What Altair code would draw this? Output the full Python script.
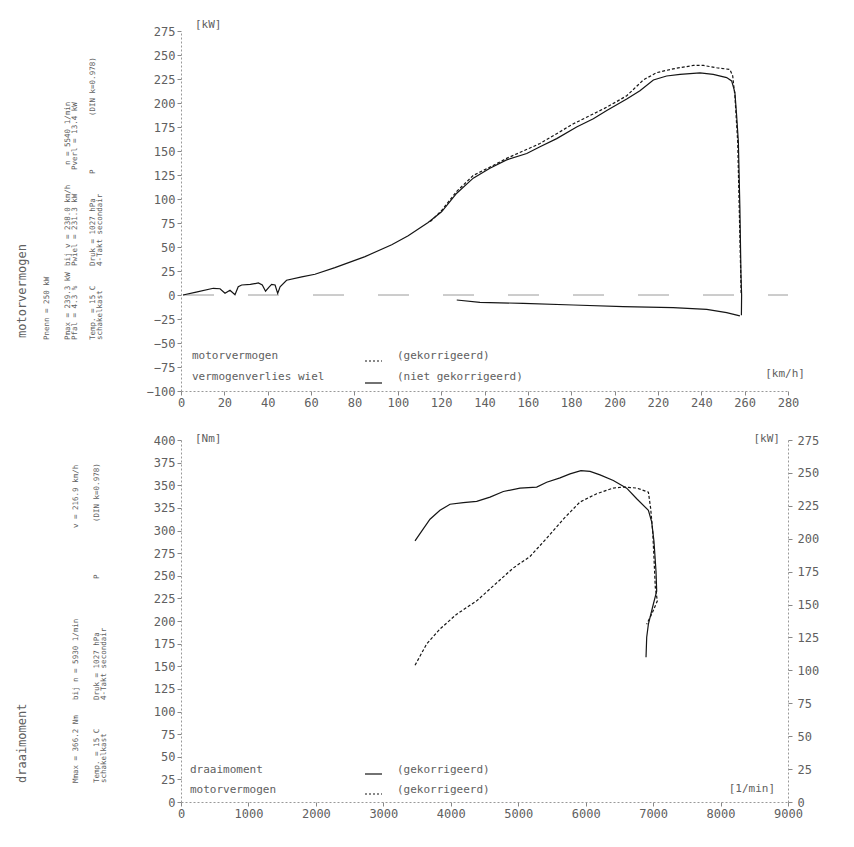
import altair as alt
import pandas as pd

# ---------------- top panel: motorvermogen (km/h -> kW) ----------------
speed_wiel = [0.9, 7, 14.9, 18, 20.3, 22.6, 24.9, 26.4, 28, 32, 35.7, 37.5, 39, 40.5,
              41.8, 43.4, 44.6, 45.7, 48.7, 55.7, 61.8, 71, 84.9, 97.2, 104.8, 114,
              120.2, 127.2, 134.8, 142.5, 150.2, 159.5, 165.6, 173.3, 182.5, 190.2,
              196.4, 205.6, 211.7, 217.9, 224, 230.2, 239.4, 245.5, 251.7, 254, 255.5,
              256.3, 257.1, 257.8, 258.3, 258.6, 258.5]
power_wiel = [0, 3, 7, 6.5, 1.8, 5, 0.3, 8.6, 10.4, 11, 12.5, 10.4, 4, 8,
              11, 10.4, 1.7, 8.5, 15.4, 18.8, 21.6, 28.5, 40, 52.4, 61.8, 75.5,
              86.7, 106, 121.7, 132, 140.7, 147.4, 154.4, 162.9, 175, 183.6,
              192.2, 204.1, 212.7, 224, 228.1, 229.8, 231.3, 229.8, 226.5, 223, 211,
              187, 159.6, 90.9, 22.3, 0, -21]
speed_corr = [115, 120.2, 127.2, 134.8, 144, 150.2, 165.6, 181, 196.4, 205.6, 213.3,
              219.4, 227, 236.3, 241, 247.1, 253.2, 254.5, 255.5, 256.8, 257.5, 258.2, 258.4]
power_corr = [76.5, 88, 108, 124.5, 134.9, 142.3, 157.8, 178.3, 195.6, 207.5, 224.1,
              231.6, 235.6, 239.1, 239.1, 236.7, 234.9, 228.1, 207.5, 159.6, 90.9, 21.7, 0]
speed_loss = [127.2, 137.9, 157.9, 181, 204, 227, 242.5, 251.7, 257.8]
power_loss = [-5.2, -7.6, -8.7, -10.4, -12.1, -13.2, -14.9, -18.3, -21.8]
zero_ref = [0]

speed_ticks = [0, 20, 40, 60, 80, 100, 120, 140, 160, 180, 200, 220, 240, 260, 280]
kw_ticks_top = [-100, -75, -50, -25, 0, 25, 50, 75, 100, 125, 150, 175, 200, 225, 250, 275]

# ---------------- bottom panel: draaimoment (1/min -> Nm, kW) ----------------
rpm_torque = [3470, 3569, 3692, 3840, 3989, 4186, 4384, 4582, 4779, 5027, 5274, 5422,
              5620, 5768, 5930, 6065, 6213, 6410, 6608, 6757, 6930, 6979, 7013, 7043,
              7053, 7003, 6930, 6905, 6895]
torque_nm = [288.5, 299.4, 312.5, 322.3, 329, 330.7, 332.2, 336.9, 343.1, 346.8, 347.9,
             353.3, 358.1, 362.5, 366.2, 365.3, 361.4, 355.2, 346.8, 335.1, 322.3, 309.6,
             287.7, 254.9, 233, 218.5, 196.6, 182, 160]
rpm_power = [3470, 3643, 3840, 4088, 4384, 4681, 4927, 5175, 5422, 5669, 5916, 6164,
             6410, 6558, 6757, 6930, 6964, 6994, 7013, 7033, 7063, 6979, 6905]
power_kw = [103.9, 120.1, 131.4, 142.7, 152.8, 166.5, 177.8, 186.5, 200.4, 214.9, 227.9,
            234.2, 238.5, 239.3, 238.5, 235.4, 222.9, 205.3, 185.3, 162.8, 152.8, 142.7, 135.1]

rpm_ticks = [0, 1000, 2000, 3000, 4000, 5000, 6000, 7000, 8000, 9000]
nm_ticks = [0, 25, 50, 75, 100, 125, 150, 175, 200, 225, 250, 275, 300, 325, 350, 375, 400]
kw_ticks_bottom = [0, 25, 50, 75, 100, 125, 150, 175, 200, 225, 250, 275]

MONO = "DejaVu Sans Mono"
GREY = "#606060"
INK = "#151515"
W, H1, H2 = 607, 360, 362


def axis(values, pad=2, **kw):
    return alt.Axis(values=values, title=None, grid=False, labelFont=MONO, labelFontSize=12,
                    labelColor=GREY, tickColor="#888888", tickSize=4, domainColor="#999999",
                    domainDash=[2, 2], labelFlush=False, labelOverlap=False, labelPadding=pad,
                    format="d", **kw)


def curve(xs, ys, xname, yname, xscale, yscale, xaxis, yaxis, dash=None):
    df = pd.DataFrame({xname: xs, yname: ys, "i": list(range(len(xs)))})
    mk = dict(color=INK, strokeWidth=1.2)
    if dash:
        mk["strokeDash"] = dash
    return alt.Chart(df).mark_line(**mk).encode(
        x=alt.X(f"{xname}:Q", scale=xscale, axis=xaxis),
        y=alt.Y(f"{yname}:Q", scale=yscale, axis=yaxis),
        order="i:Q",
    )


def note(text, x, y, size=7.5, angle=270, align="left", baseline="middle"):
    return alt.Chart(alt.Data(values=[{}])).mark_text(
        text=text, font=MONO, fontSize=size, angle=angle, align=align,
        baseline=baseline, color=GREY,
    ).encode(x=alt.value(x), y=alt.value(y))


def seg(x1, x2, y, dash=None):
    mk = dict(color=INK, strokeWidth=1.2)
    if dash:
        mk["strokeDash"] = dash
    return alt.Chart(alt.Data(values=[{}])).mark_rule(**mk).encode(
        x=alt.value(x1), x2=alt.value(x2), y=alt.value(y))


# ---- top panel ----
xs_top = alt.Scale(domain=[0, 280], nice=False, zero=False)
ys_top = alt.Scale(domain=[-100, 275], nice=False, zero=False)
xa_top = axis(speed_ticks)
ya_top = axis(kw_ticks_top)

zero_line = alt.Chart(pd.DataFrame({"p": zero_ref})).mark_rule(
    color="#9a9a9a", strokeWidth=1, strokeDash=[31, 34], strokeDashOffset=63
).encode(y=alt.Y("p:Q", scale=ys_top, axis=ya_top), x=alt.value(0), x2=alt.value(W))

top_layers = [
    zero_line,
    curve(speed_loss, power_loss, "v", "p", xs_top, ys_top, xa_top, ya_top),
    curve(speed_wiel, power_wiel, "v", "p", xs_top, ys_top, xa_top, ya_top),
    curve(speed_corr, power_corr, "v", "p", xs_top, ys_top, xa_top, ya_top, dash=[3, 2]),
    note("motorvermogen", 11, 325, size=11, angle=0),
    seg(184, 201, 330, dash=[2, 2]),
    note("(gekorrigeerd)", 216, 325, size=11, angle=0),
    note("vermogenverlies wiel", 11, 346, size=11, angle=0),
    seg(184, 201, 352),
    note("(niet gekorrigeerd)", 216, 346, size=11, angle=0),
    note("[kW]", 14, -6, size=11, angle=0),
    note("[km/h]", 624, 343, size=11, angle=0, align="right"),
    # left info block (rotated)
    note("motorvermogen", -159, 307, size=12),
    note("Pnenn =  250  kW", -134, 309),
    note("Pmax = 239.3 kW", -113, 309),
    note("Pfal =   4.3 %", -106, 309),
    note("Temp. = 15 C", -88, 309),
    note("schakelkast", -81, 309),
    note("bij v = 238.0 km/h", -113, 235),
    note("Pwiel = 231.3 kW", -106, 235),
    note("Druk  = 1027 hPa", -88, 235),
    note("4-Takt secondair", -81, 235),
    note("n  =    5540  1/min", -113, 134),
    note("Pverl =    13.4 kW", -106, 139),
    note("P", -88, 143),
    note("(DIN k=0.978)", -88, 85),
]
top = alt.layer(*top_layers).properties(width=W, height=H1)

# ---- bottom panel ----
xs_bot = alt.Scale(domain=[0, 9000], nice=False, zero=False)
ys_nm = alt.Scale(domain=[0, 400], nice=False, zero=False)
ys_kw = alt.Scale(domain=[0, 275], nice=False, zero=False)
xa_bot = axis(rpm_ticks)
ya_nm = axis(nm_ticks)
ya_kw = axis(kw_ticks_bottom, pad=5, orient="right")

bottom_layers = [
    curve(rpm_torque, torque_nm, "n", "m", xs_bot, ys_nm, xa_bot, ya_nm),
    curve(rpm_power, power_kw, "n", "k", xs_bot, ys_kw, xa_bot, ya_kw, dash=[3, 2]),
    note("draaimoment", 9, 330, size=11, angle=0),
    seg(184, 201, 334),
    note("(gekorrigeerd)", 216, 330, size=11, angle=0),
    note("motorvermogen", 9, 350, size=11, angle=0),
    seg(184, 201, 354, dash=[2, 2]),
    note("(gekorrigeerd)", 216, 350, size=11, angle=0),
    note("[Nm]", 14, -1, size=11, angle=0),
    note("[kW]", 599, -1, size=11, angle=0, align="right"),
    note("[1/min]", 594, 349, size=11, angle=0, align="right"),
    # left info block (rotated)
    note("draaimoment", -159, 343, size=12),
    note("Mmax = 366.2 Nm", -105, 343),
    note("Temp. =  15  C", -84, 343),
    note("schakelkast", -77, 343),
    note("bij n  =   5930  1/min", -105, 260),
    note("Druk  =  1027  hPa", -84, 260),
    note("4-Takt secondair", -77, 260),
    note("v  =   216.9 km/h", -105, 88),
    note("P", -84, 139),
    note("(DIN k=0.978)", -84, 82),
]
bottom = alt.layer(*bottom_layers).resolve_scale(y="independent").properties(width=W, height=H2)

chart = (
    alt.vconcat(top, bottom, spacing=25)
    .properties(padding={"left": 8, "top": 11, "right": 5, "bottom": 0}, background="white")
    .configure_view(strokeWidth=0)
)

chart.save("out.html", embed_options={"renderer": "svg", "actions": False})
